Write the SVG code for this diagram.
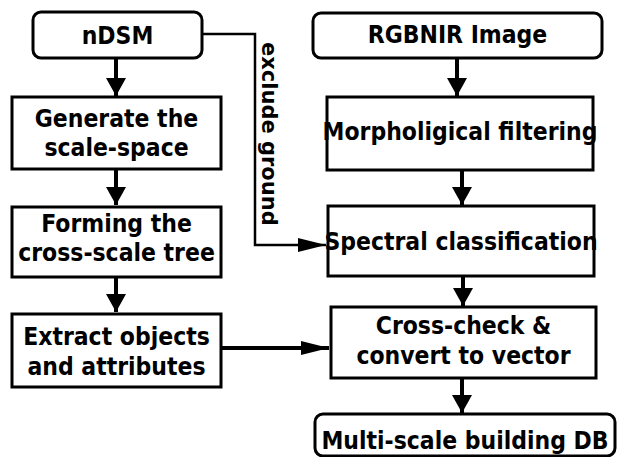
<svg xmlns="http://www.w3.org/2000/svg" width="617" height="457" viewBox="0 0 617 457">
  <style>
    .box { fill: #ffffff; stroke: #000000; stroke-width: 3; }
    .lbl { font-family: "DejaVu Sans", Verdana, sans-serif; font-weight: bold; font-size: 22px; fill: #000000; text-anchor: middle; }
    .side { font-family: "DejaVu Sans", Verdana, sans-serif; font-weight: bold; font-size: 21px; fill: #000000; }
    .thick { fill: none; stroke: #000000; stroke-width: 4; }
    .thin { fill: none; stroke: #000000; stroke-width: 2.5; }
  </style>
  <defs>
    <marker id="headV" markerUnits="userSpaceOnUse" markerWidth="20" markerHeight="20" refX="18" refY="10" orient="auto" viewBox="0 0 20 20">
      <polygon points="0,0 18,10 0,20" fill="#000000"/>
    </marker>
    <marker id="headH" markerUnits="userSpaceOnUse" markerWidth="28" markerHeight="16" refX="28" refY="8" orient="auto" viewBox="0 0 28 16">
      <polygon points="0,1 28,8 0,15" fill="#000000"/>
    </marker>
  </defs>

  <g id="connectors">
    <path class="thick" d="M116,58 V96" marker-end="url(#headV)"/>
    <path class="thick" d="M116,169 V205" marker-end="url(#headV)"/>
    <path class="thick" d="M116,277 V312" marker-end="url(#headV)"/>
    <path class="thick" d="M457,58 V96" marker-end="url(#headV)"/>
    <path class="thick" d="M462,170 V205" marker-end="url(#headV)"/>
    <path class="thick" d="M463,276 V306" marker-end="url(#headV)"/>
    <path class="thick" d="M462,378 V413" marker-end="url(#headV)"/>
    <path class="thin" d="M202,34 H255 V245 H326" marker-end="url(#headH)"/>
    <path class="thick" d="M221,348 H329" marker-end="url(#headH)"/>
    <text class="side" transform="translate(262,42) rotate(90)">exclude ground</text>
  </g>

  <g id="ndsm">
    <rect class="box" x="33" y="12" width="169" height="46" rx="8"/>
    <text class="lbl" transform="translate(117.5,44) scale(1,1.13)">nDSM</text>
  </g>
  <g id="generate">
    <rect class="box" x="12" y="97" width="209" height="72"/>
    <text class="lbl" transform="translate(116.5,127) scale(1,1.13)">Generate the</text>
    <text class="lbl" transform="translate(116.5,156) scale(1,1.13)">scale-space</text>
  </g>
  <g id="forming">
    <rect class="box" x="12" y="207" width="209" height="70"/>
    <text class="lbl" transform="translate(116.5,232) scale(1,1.13)">Forming the</text>
    <text class="lbl" transform="translate(116.5,261) scale(1,1.13)">cross-scale tree</text>
  </g>
  <g id="extract">
    <rect class="box" x="12" y="314" width="209" height="73"/>
    <text class="lbl" transform="translate(116.5,345) scale(1,1.13)">Extract objects</text>
    <text class="lbl" transform="translate(116.5,375) scale(1,1.13)">and attributes</text>
  </g>
  <g id="rgbnir">
    <rect class="box" x="313" y="13" width="289" height="45" rx="8"/>
    <text class="lbl" transform="translate(457.5,43) scale(1,1.13)">RGBNIR Image</text>
  </g>
  <g id="morph">
    <rect class="box" x="327" y="97" width="266" height="73"/>
    <text class="lbl" transform="translate(460,140) scale(1,1.13)">Morpholigical filtering</text>
  </g>
  <g id="spectral">
    <rect class="box" x="328" y="206" width="266" height="70"/>
    <text class="lbl" transform="translate(461,250) scale(1,1.13)">Spectral classification</text>
  </g>
  <g id="crosscheck">
    <rect class="box" x="331" y="307" width="265" height="71"/>
    <text class="lbl" transform="translate(463.5,334) scale(1,1.13)">Cross-check &amp;</text>
    <text class="lbl" transform="translate(463.5,364) scale(1,1.13)">convert to vector</text>
  </g>
  <g id="multiscale">
    <rect class="box" x="315" y="414" width="300" height="42" rx="8"/>
    <text class="lbl" transform="translate(465,449) scale(1,1.13)">Multi-scale building DB</text>
  </g>
</svg>
